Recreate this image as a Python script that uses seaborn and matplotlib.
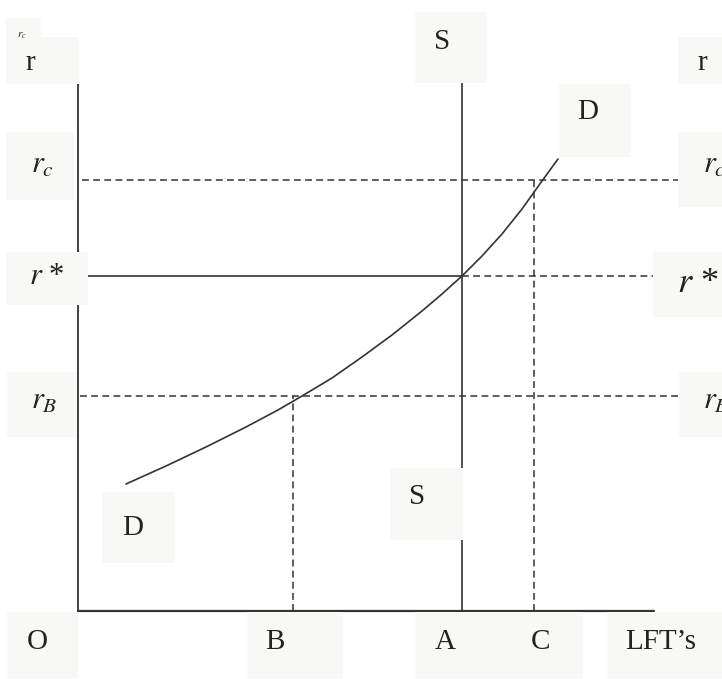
import matplotlib

matplotlib.use("Agg")

import matplotlib.pyplot as plt
import pandas as pd
import seaborn as sns
from matplotlib.patches import Rectangle

# quantities of LFT's (x) and interest rates (y), origin at O
q_B = 215
q_A = 384
q_C = 456
q_max = 576
r_B = 215
r_star = 335
r_c = 431
r_top = 551
s_top = 528

# demand curve D
demand_q = [48, 88, 128, 168, 200, 224, 254, 284, 314, 344, 364, 384, 404, 424, 444, 464, 480]
demand_r = [127, 145, 164, 184, 201, 215, 233, 254, 276, 300, 317, 335, 355, 377, 402, 430, 452]

LINE = "#333333"
BOX = "#f8f8f6"
W, H = 722, 679

sns.set_theme(style="white")
plt.rcParams["font.family"] = ["Liberation Serif", "DejaVu Serif"]
plt.rcParams["mathtext.fontset"] = "stix"

fig = plt.figure(figsize=(W / 100, H / 100), dpi=100)
ax = fig.add_axes([0, 0, 1, 1])
ax.set_xlim(-78, W - 78)
ax.set_ylim(-(H - 611), 611)
ax.axis("off")

demand = pd.DataFrame({"q": demand_q, "r": demand_r})
sns.lineplot(data=demand, x="q", y="r", ax=ax, color=LINE, lw=1.2, sort=False,
             estimator=None, zorder=2)

dash = (0, (4.5, 2.8))
# axes
ax.plot([0, 0], [0, r_top], color=LINE, lw=1.3, zorder=2)
ax.plot([0, q_max], [0, 0], color=LINE, lw=1.6, zorder=2)
# supply
ax.plot([q_A, q_A], [0, s_top], color=LINE, lw=1.2, zorder=2)
# r* line
ax.plot([10, q_A], [r_star, r_star], color=LINE, lw=1.2, zorder=2)
ax.plot([q_A, 575], [r_star, r_star], color=LINE, lw=1.1, ls=dash, zorder=2)
# r_c and r_B
ax.plot([4, 600], [r_c, r_c], color=LINE, lw=1.1, ls=dash, zorder=2)
ax.plot([2, 600], [r_B, r_B], color=LINE, lw=1.1, ls=dash, zorder=2)
# verticals at B and C
ax.plot([q_B, q_B], [0, r_B], color=LINE, lw=1.1, ls=dash, zorder=2)
ax.plot([q_C, q_C], [0, r_c], color=LINE, lw=1.1, ls=dash, zorder=2)


def px(x, y):
    return x / W, 1 - y / H


def box(x0, y0, x1, y1):
    fig.add_artist(Rectangle(px(x0, y1), (x1 - x0) / W, (y1 - y0) / H,
                             transform=fig.transFigure, facecolor=BOX,
                             edgecolor="none", zorder=3))


def label(x, y, s, size=21, ha="center", z=4):
    fig.text(*px(x, y), s, fontsize=size, ha=ha, va="center", color="#222222",
             zorder=z)


# label boxes
box(6, 18, 41, 37)
label(22, 36, "$r_c$", size=8, z=3.5)
box(6, 37, 79, 84)
box(6, 132, 74, 200)
box(6, 252, 88, 305)
box(7, 372, 77, 437)
box(678, 37, 722, 84)
box(678, 132, 722, 207)
box(653, 252, 722, 317)
box(679, 372, 722, 437)
box(415, 12, 487, 83)
box(559, 84, 631, 157)
box(390, 468, 463, 540)
box(102, 492, 175, 563)
box(7, 612, 78, 678)
box(247, 612, 343, 678)
box(415, 612, 583, 678)
box(607, 612, 722, 678)

label(30, 63, "r")
label(702, 63, "r")
label(31, 165, "$r_c$", size=22, ha="left")
label(703, 165, "$r_c$", size=22, ha="left")
label(29, 276, "$r$ *", size=22, ha="left")
label(677, 283, "$r$ *", size=26, ha="left")
label(31, 401, "$r_B$", size=22, ha="left")
label(703, 401, "$r_B$", size=22, ha="left")
label(442, 42, "S")
label(588, 112, "D")
label(417, 497, "S")
label(133, 528, "D")
label(37, 642, "O")
label(275, 642, "B")
label(445, 642, "A")
label(540, 642, "C")
label(661, 642, "LFT\u2019s")

fig.savefig("out.png", dpi=100)
